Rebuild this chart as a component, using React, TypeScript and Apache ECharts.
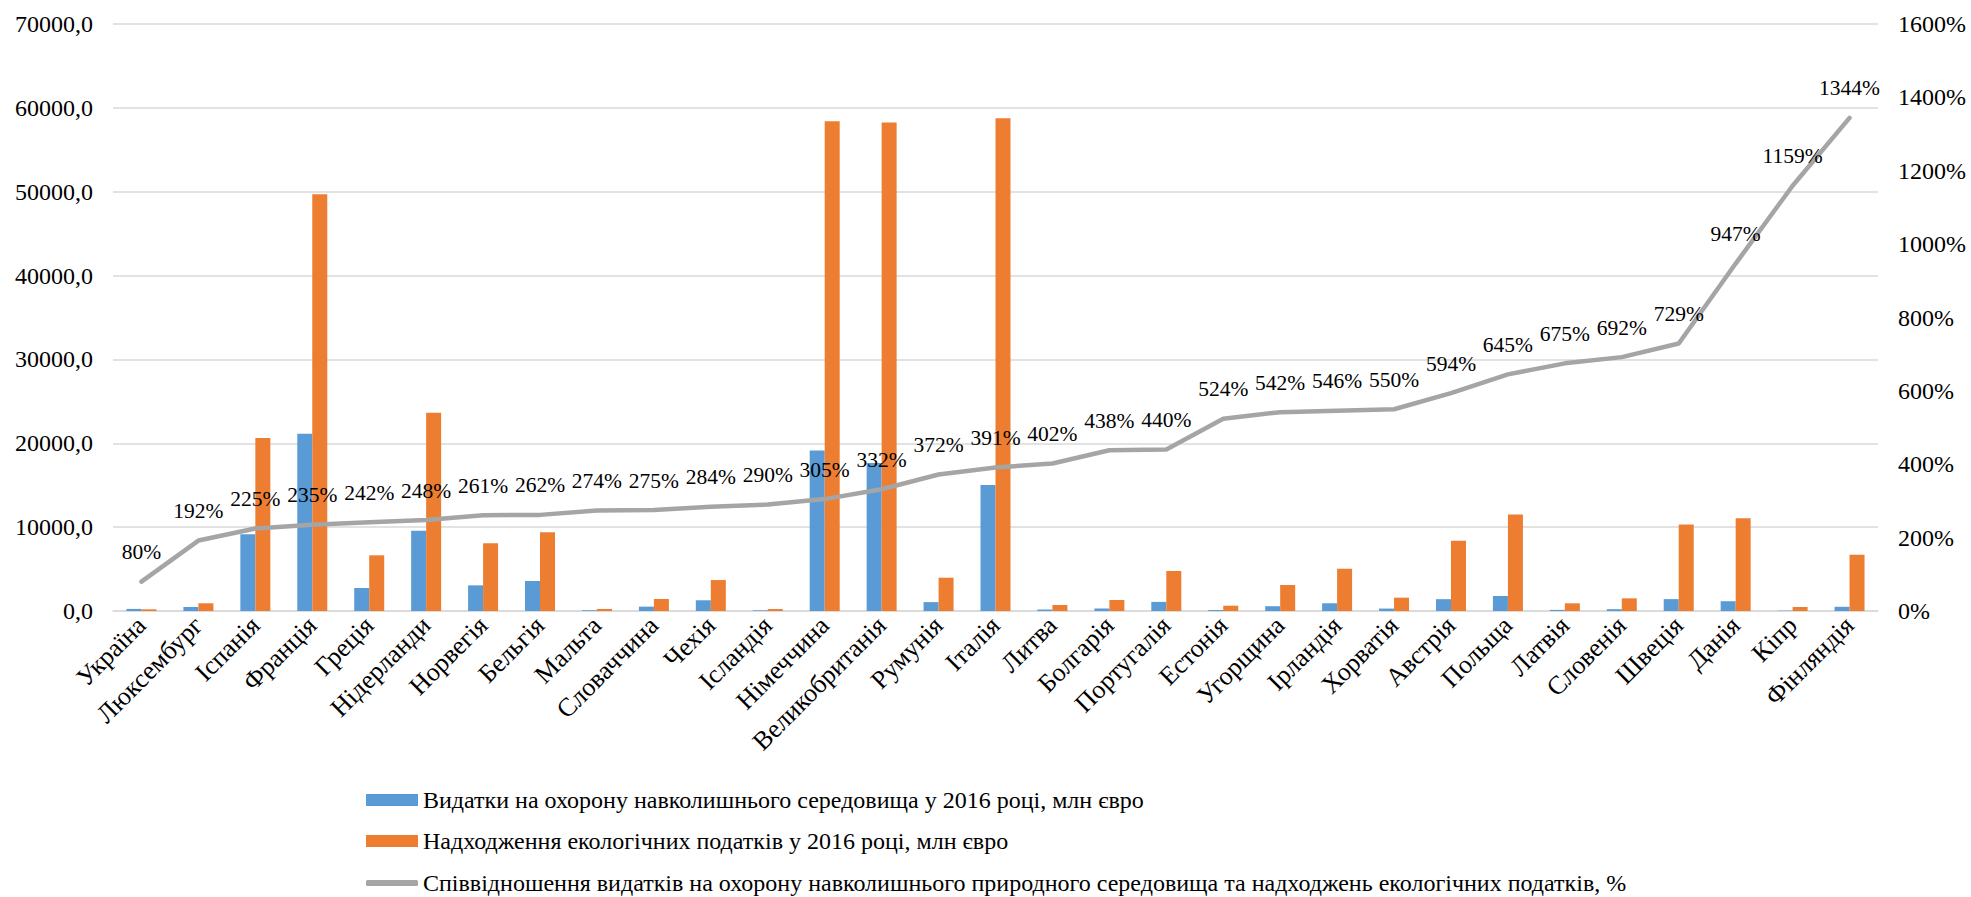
import React, { useEffect, useRef } from "react";
import * as echarts from "echarts";

const countries = [
  "Україна", "Люксембург", "Іспанія", "Франція", "Греція", "Нідерланди", "Норвегія", "Бельгія",
  "Мальта", "Словаччина", "Чехія", "Ісландія", "Німеччина", "Великобританія", "Румунія", "Італія",
  "Литва", "Болгарія", "Португалія", "Естонія", "Угорщина", "Ірландія", "Хорватія", "Австрія",
  "Польща", "Латвія", "Словенія", "Швеція", "Данія", "Кіпр", "Фінляндія",
];

const expenses = [
  250, 480, 9140, 21130, 2740, 9570, 3060, 3580,
  90, 520, 1280, 80, 19150, 17640, 1060, 15020,
  178, 300, 1085, 120, 572, 923, 290, 1410,
  1790, 135, 218, 1417, 1167, 41, 500,
];

const taxes = [
  200, 920, 20620, 49700, 6640, 23640, 8070, 9380,
  245, 1430, 3690, 235, 58400, 58250, 3970, 58760,
  715, 1310, 4770, 630, 3100, 5040, 1590, 8380,
  11520, 915, 1510, 10330, 11050, 480, 6710,
];

const ratioPct = [
  80, 192, 225, 235, 242, 248, 261, 262,
  274, 275, 284, 290, 305, 332, 372, 391,
  402, 438, 440, 524, 542, 546, 550, 594,
  645, 675, 692, 729, 947, 1159, 1344,
];

const seriesNames = [
  "Видатки на охорону навколишнього середовища у 2016 році, млн євро",
  "Надходження екологічних податків у 2016 році, млн євро",
  "Співвідношення видатків на охорону навколишнього природного середовища та надходжень екологічних податків, %",
];

const FONT = "Times New Roman, Liberation Serif, serif";

export default function App() {
  const ref = useRef<HTMLDivElement>(null);
  useEffect(() => {
    if (!ref.current) return;
    const chart = echarts.init(ref.current, null, { renderer: "svg" });
    const legendBase = {
      orient: "horizontal",
      left: 366,
      padding: 0,
      itemGap: 5,
      itemWidth: 52,
      itemHeight: 12,
      textStyle: { fontFamily: FONT, fontSize: 24, color: "#000" },
    };
    chart.setOption({
      animation: false,
      textStyle: { fontFamily: FONT, color: "#000" },
      grid: { left: 113, right: 93, top: 24, bottom: 286 },
      legend: [
        { ...legendBase, top: 788, data: [{ name: seriesNames[0], icon: "rect" }] },
        { ...legendBase, top: 829, data: [{ name: seriesNames[1], icon: "rect" }] },
        {
          ...legendBase,
          top: 871,
          itemHeight: 6,
          data: [{ name: seriesNames[2], icon: "roundRect", itemStyle: { color: "#A5A5A5" } }],
        },
      ],
      xAxis: {
        type: "category",
        data: countries,
        axisTick: { show: false },
        axisLine: { lineStyle: { color: "#D9D9D9", width: 1.5 } },
        axisLabel: {
          interval: 0,
          rotate: 45,
          fontFamily: FONT,
          fontSize: 26,
          color: "#000",
          margin: 10,
        },
      },
      yAxis: [
        {
          type: "value",
          min: 0,
          max: 70000,
          interval: 10000,
          axisLine: { show: false },
          axisTick: { show: false },
          splitLine: { lineStyle: { color: "#D9D9D9", width: 1.5 } },
          axisLabel: {
            fontFamily: FONT,
            fontSize: 24,
            color: "#000",
            margin: 20,
            formatter: (v: number) => v.toFixed(1).replace(".", ","),
          },
        },
        {
          type: "value",
          min: 0,
          max: 1600,
          interval: 200,
          axisLine: { show: false },
          axisTick: { show: false },
          splitLine: { show: false },
          axisLabel: {
            fontFamily: FONT,
            fontSize: 24,
            color: "#000",
            margin: 20,
            formatter: (v: number) => v + "%",
          },
        },
      ],
      series: [
        {
          name: seriesNames[0],
          type: "bar",
          data: expenses,
          barWidth: 15,
          barGap: "0%",
          itemStyle: { color: "#5B9BD5" },
        },
        {
          name: seriesNames[1],
          type: "bar",
          data: taxes,
          barWidth: 15,
          barGap: "0%",
          itemStyle: { color: "#ED7D31" },
        },
        {
          name: seriesNames[2],
          type: "line",
          yAxisIndex: 1,
          data: ratioPct,
          symbol: "circle",
          symbolSize: 1,
          showAllSymbol: true,
          lineStyle: { color: "#A5A5A5", width: 4.5, cap: "round" },
          itemStyle: { color: "#A5A5A5" },
          z: 5,
          label: {
            show: true,
            position: "top",
            distance: 18,
            fontFamily: FONT,
            fontSize: 21.5,
            color: "#000",
            formatter: (p: any) => p.value + "%",
          },
          labelLayout: { hideOverlap: false },
        },
      ],
    });
    return () => chart.dispose();
  }, []);
  return (
    <div
      ref={ref}
      style={{ position: "fixed", left: 0, top: 0, width: 1971, height: 897, background: "#fff" }}
    />
  );
}
